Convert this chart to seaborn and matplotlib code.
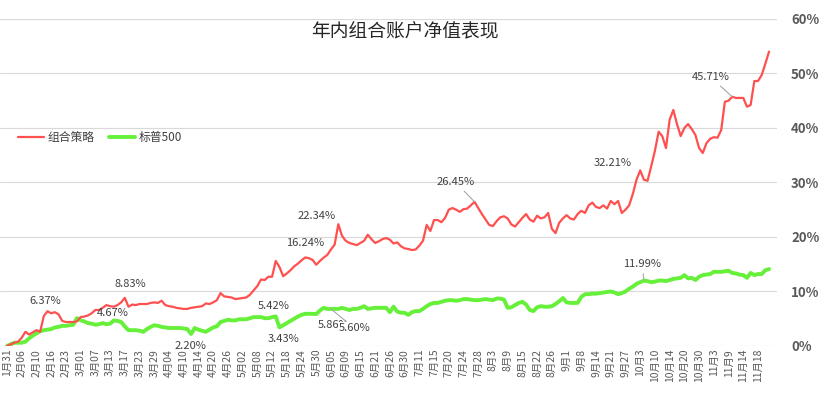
import pandas as pd
import numpy as np
import seaborn as sns
import matplotlib.pyplot as plt

# net value (%) of the portfolio strategy and S&P 500, one value per trading day
strategy = [
    0.0, 0.3, 0.6, 0.8, 1.5, 2.6, 2.1, 2.5, 2.9, 2.6,
    5.5, 6.37, 6.0, 6.2, 5.8, 4.6, 4.4, 4.4, 4.4, 4.5,
    5.3, 5.4, 5.6, 6.0, 6.6, 6.6, 7.0, 7.5, 7.3, 7.2,
    7.5, 8.0, 8.83, 7.2, 7.6, 7.5, 7.7, 7.7, 7.7, 7.9,
    8.0, 7.9, 8.3, 7.5, 7.3, 7.2, 7.0, 6.9, 6.8, 6.8,
    7.0, 7.1, 7.2, 7.3, 7.8, 7.7, 8.0, 8.4, 9.7, 9.1,
    9.0, 8.9, 8.6, 8.7, 8.8, 8.9, 9.4, 10.2, 11.0, 12.2,
    12.1, 12.7, 12.7, 15.6, 14.5, 12.8, 13.3, 13.9, 14.6, 15.1,
    15.7, 16.24, 16.1, 15.8, 14.9, 15.6, 16.2, 16.7, 17.7, 18.6,
    22.34, 20.2, 19.3, 18.9, 18.7, 18.5, 18.9, 19.3, 20.4, 19.6,
    18.9, 19.2, 19.6, 19.8, 19.5, 18.8, 19.0, 18.3, 17.9, 17.8,
    17.6, 17.7, 18.4, 19.3, 22.2, 21.1, 23.1, 23.1, 22.7, 23.5,
    25.0, 25.3, 25.0, 24.6, 25.1, 25.2, 25.8, 26.45, 25.3, 24.2,
    23.2, 22.2, 22.0, 22.9, 23.6, 23.8, 23.4, 22.3, 21.9, 22.7,
    23.5, 24.2, 23.2, 22.8, 23.9, 23.4, 23.6, 24.4, 21.5, 20.7,
    22.6, 23.4, 24.0, 23.4, 23.2, 24.2, 24.8, 24.4, 25.8, 26.3,
    25.5, 25.3, 25.8, 25.2, 26.6, 26.0, 26.6, 24.4, 25.0, 25.8,
    27.9, 30.5, 32.21, 30.5, 30.3, 33.0, 35.8, 39.3, 38.5, 36.3,
    41.5, 43.3, 40.7, 38.5, 40.0, 40.7, 39.8, 38.7, 36.3, 35.4,
    37.2, 38.0, 38.3, 38.2, 39.6, 44.8, 45.0, 45.71, 45.5, 45.5,
    45.5, 43.9, 44.2, 48.6, 48.6, 49.7, 51.8, 54.0,
]
sp500 = [
    0.0, 0.3, 0.6, 0.6, 0.6, 0.8, 1.4, 1.9, 2.3, 2.7,
    2.9, 3.0, 3.1, 3.4, 3.5, 3.7, 3.7, 3.8, 3.9, 5.1,
    4.7, 4.5, 4.2, 4.1, 3.9, 4.0, 4.2, 4.0, 4.1, 4.67,
    4.6, 4.4, 3.6, 2.9, 2.9, 2.9, 2.8, 2.6, 3.1, 3.5,
    3.8, 3.7, 3.5, 3.4, 3.3, 3.3, 3.3, 3.3, 3.2, 3.1,
    2.20, 3.3, 3.0, 2.8, 2.6, 3.0, 3.4, 3.6, 4.4, 4.6,
    4.8, 4.7, 4.7, 4.9, 4.9, 4.9, 5.1, 5.3, 5.3, 5.3,
    5.1, 5.1, 5.3, 5.42, 3.43, 3.8, 4.2, 4.6, 5.0, 5.4,
    5.7, 5.9, 5.9, 5.9, 5.86, 6.5, 7.0, 6.8, 6.8, 6.8,
    6.8, 7.0, 6.8, 6.6, 6.8, 6.8, 7.0, 7.3, 6.8, 6.9,
    7.0, 7.0, 7.0, 7.0, 6.2, 7.2, 6.3, 6.1, 6.1, 5.7,
    6.2, 6.4, 6.4, 6.8, 7.3, 7.7, 7.9, 7.9, 8.1, 8.3,
    8.4, 8.4, 8.3, 8.4, 8.6, 8.6, 8.5, 8.4, 8.4, 8.5,
    8.6, 8.5, 8.4, 8.7, 8.7, 8.5, 7.0, 7.1, 7.5, 7.9,
    8.1, 7.6, 6.6, 6.4, 7.1, 7.3, 7.2, 7.2, 7.3, 7.7,
    8.2, 8.8, 8.0, 7.9, 7.9, 7.9, 9.0, 9.5, 9.5, 9.6,
    9.6, 9.7, 9.8, 9.9, 10.0, 9.8, 9.5, 9.7, 10.0, 10.5,
    10.9, 11.4, 11.7, 11.99, 11.9, 11.7, 11.8, 12.0, 12.0, 11.9,
    12.1, 12.3, 12.4, 12.5, 13.0, 12.4, 12.5, 12.1, 12.7, 13.0,
    13.1, 13.2, 13.6, 13.6, 13.6, 13.7, 13.8, 13.4, 13.3, 13.1,
    13.0, 12.5, 13.4, 13.0, 13.2, 13.2, 13.9, 14.1,
]
tick_labels = [
    '1月31', '2月06', '2月10', '2月16', '2月23', '3月01', '3月07', '3月13',
    '3月17', '3月23', '3月29', '4月04', '4月10', '4月14', '4月20', '4月26',
    '5月02', '5月08', '5月12', '5月18', '5月24', '5月30', '6月05', '6月09',
    '6月15', '6月21', '6月26', '6月30', '7月11', '7月15', '7月20', '7月24',
    '7月28', '8月3', '8月9', '8月15', '8月22', '8月26', '9月1', '9月8',
    '9月14', '9月21', '9月27', '10月3', '10月10', '10月14', '10月20', '10月30',
    '11月3', '11月9', '11月14', '11月18',
]
series_names = ['组合策略', '标普500']

sns.set_style("white")
plt.rcParams['font.family'] = ['Noto Sans CJK SC', 'DejaVu Sans']

df = pd.DataFrame({'day': np.arange(len(strategy)),
                   series_names[0]: strategy,
                   series_names[1]: sp500})

fig = plt.figure(figsize=(8.25, 3.96), dpi=100)
ax = fig.add_axes([0.0, 0.1263, 0.942, 0.826])

red = '#FF5050'
green = '#66F03A'
sns.lineplot(data=df, x='day', y=series_names[0], ax=ax, color=red, lw=1.6,
             label=series_names[0], zorder=3)
sns.lineplot(data=df, x='day', y=series_names[1], ax=ax, color=green, lw=2.8,
             label=series_names[1], zorder=2)

ax.set_xlim(-1.9, 209.2)
ax.set_ylim(0, 60)
ax.set_yticks(range(0, 61, 10))
ax.set_yticklabels([f'{v}%' for v in range(0, 61, 10)], fontsize=9.5,
                   fontweight='bold', color='#595959')
ax.yaxis.tick_right()
ax.tick_params(axis='y', length=0, pad=10)
ax.set_xticks(range(0, 4 * len(tick_labels), 4))
ax.set_xticklabels(tick_labels, rotation=90, fontsize=7.5, color='#595959')
ax.tick_params(axis='x', length=0, pad=2)
ax.set_xlabel('')
ax.set_ylabel('')
ax.grid(axis='y', color='#D9D9D9', lw=0.8)
for s in ax.spines.values():
    s.set_visible(False)

fig.text(405 / 825, 1 - 31 / 396, '年内组合账户净值表现', ha='center', va='center',
         fontsize=13.5, color='#262626')

ax.legend(loc='upper left', bbox_to_anchor=(0.01, 0.69), ncol=2, frameon=False,
          fontsize=8.5, handlelength=2.2, columnspacing=1.2, handletextpad=0.3,
          labelcolor='#404040')


def px(x, y):
    # reference pixel -> data coordinates
    return (x - 7) / 3.68, (346 - y) / 5.45


txt = dict(fontsize=8, color='#404040', ha='center', va='center')
plain = [('6.37%', 45, 301), ('8.83%', 130, 284), ('4.67%', 113, 313),
         ('2.20%', 190, 346), ('5.42%', 274, 306), ('3.43%', 283, 339),
         ('5.86%', 333, 325), ('16.24%', 305, 243), ('22.34%', 316, 216),
         ('32.21%', 612, 163)]
for t, x, y in plain:
    ax.text(*px(x, y), t, **txt)

leader = dict(arrowstyle='-', color='#A6A6A6', lw=0.8, shrinkA=1, shrinkB=0)
ax.annotate('5.60%', xy=(88, sp500[88]), xytext=px(354, 328), arrowprops=leader,
            bbox=dict(fc='white', ec='none', pad=0.5), annotation_clip=False, **txt)
ax.annotate('26.45%', xy=(127, strategy[127]), xytext=px(455, 182), arrowprops=leader, **txt)
ax.annotate('45.71%', xy=(197, strategy[197]), xytext=px(710, 77), arrowprops=leader, **txt)
ax.annotate('11.99%', xy=(173, sp500[173]), xytext=px(642, 264), arrowprops=leader, **txt)

fig.savefig('out.png', dpi=100)
